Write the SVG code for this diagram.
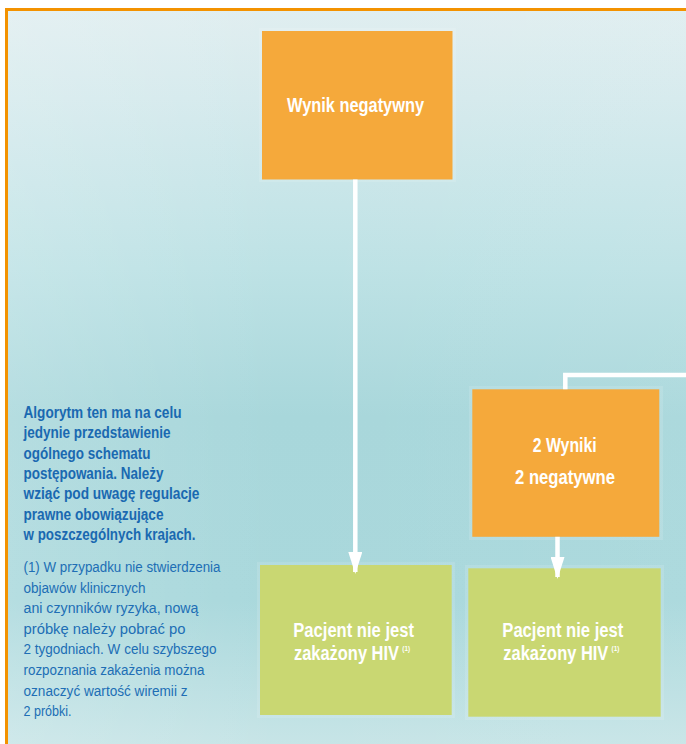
<svg xmlns="http://www.w3.org/2000/svg" width="686" height="744" viewBox="0 0 686 744">
  <defs>
    <linearGradient id="bg" x1="0" y1="0" x2="0" y2="1">
      <stop offset="0" stop-color="#e0eef0"/>
      <stop offset="0.12" stop-color="#d5eaed"/>
      <stop offset="0.35" stop-color="#bde2e5"/>
      <stop offset="0.55" stop-color="#a8d7db"/>
      <stop offset="0.8" stop-color="#a9d8dc"/>
      <stop offset="1" stop-color="#c8e5e7"/>
    </linearGradient>
    <linearGradient id="bgh" x1="0" y1="0" x2="1" y2="0">
      <stop offset="0" stop-color="#ffffff" stop-opacity="0.15"/>
      <stop offset="0.4" stop-color="#ffffff" stop-opacity="0"/>
      <stop offset="1" stop-color="#ffffff" stop-opacity="0.05"/>
    </linearGradient>
    <marker id="ah" viewBox="0 0 22 14" refX="20" refY="7" markerWidth="22" markerHeight="14" markerUnits="userSpaceOnUse" orient="auto">
      <path d="M0,0 L22,7 L0,14 Z" fill="#ffffff"/>
    </marker>
    <style>
      .orange { fill: #f5a93b; }
      .green { fill: #c9d772; }
      .halo { fill: #ffffff; fill-opacity: 0.12; }
      .lbl { font-family: "Liberation Sans Narrow", "Liberation Sans", Arial, sans-serif; font-weight: bold; fill: #ffffff; }
      .sup { font-size: 7.5px; }
      .note-b { font-family: "Liberation Sans Narrow", "Liberation Sans", Arial, sans-serif; font-weight: bold; fill: #1a69b1; font-size: 16px; }
      .note-r { font-family: "Liberation Sans Narrow", "Liberation Sans", Arial, sans-serif; fill: #206eb5; font-size: 14px; }
      .conn { stroke: #ffffff; stroke-width: 4.5; fill: none; }
    </style>
  </defs>

  <!-- background -->
  <rect x="0" y="0" width="686" height="744" fill="#ffffff"/>
  <rect x="6.5" y="9.5" width="690" height="740" fill="url(#bg)"/>
  <rect x="6.5" y="9.5" width="690" height="740" fill="url(#bgh)"/>
  <path d="M6.5,744 L6.5,9.5 L686,9.5" fill="none" stroke="#f39200" stroke-width="3"/>

  <!-- note texts -->
  <g id="note">
    <text class="note-b" x="23.5" y="418" textLength="158" lengthAdjust="spacingAndGlyphs">Algorytm ten ma na celu</text>
    <text class="note-b" x="23.5" y="438.3" textLength="147" lengthAdjust="spacingAndGlyphs">jedynie przedstawienie</text>
    <text class="note-b" x="23.5" y="458.6" textLength="127" lengthAdjust="spacingAndGlyphs">ogólnego schematu</text>
    <text class="note-b" x="23.5" y="479" textLength="140" lengthAdjust="spacingAndGlyphs">postępowania. Należy</text>
    <text class="note-b" x="23.5" y="499.3" textLength="176" lengthAdjust="spacingAndGlyphs">wziąć pod uwagę regulacje</text>
    <text class="note-b" x="23.5" y="519.6" textLength="140" lengthAdjust="spacingAndGlyphs">prawne obowiązujące</text>
    <text class="note-b" x="23.5" y="540" textLength="172" lengthAdjust="spacingAndGlyphs">w poszczególnych krajach.</text>
  </g>
  <g id="footnote">
    <text class="note-r" x="23.5" y="572" textLength="197" lengthAdjust="spacingAndGlyphs">(1) W przypadku nie stwierdzenia</text>
    <text class="note-r" x="23.5" y="592.6" textLength="122" lengthAdjust="spacingAndGlyphs">objawów klinicznych</text>
    <text class="note-r" x="23.5" y="613.2" textLength="175" lengthAdjust="spacingAndGlyphs">ani czynników ryzyka, nową</text>
    <text class="note-r" x="23.5" y="633.8" textLength="162" lengthAdjust="spacingAndGlyphs">próbkę należy pobrać po</text>
    <text class="note-r" x="23.5" y="654.4" textLength="193" lengthAdjust="spacingAndGlyphs">2 tygodniach. W celu szybszego</text>
    <text class="note-r" x="23.5" y="675" textLength="181" lengthAdjust="spacingAndGlyphs">rozpoznania zakażenia można</text>
    <text class="note-r" x="23.5" y="695.6" textLength="164" lengthAdjust="spacingAndGlyphs">oznaczyć wartość wiremii z</text>
    <text class="note-r" x="23.5" y="716.2" textLength="48" lengthAdjust="spacingAndGlyphs">2 próbki.</text>
  </g>

  <!-- nodes -->
  <g id="wynik-negatywny">
    <rect class="halo" x="259" y="28" width="197" height="154"/>
    <rect class="orange" x="262" y="31" width="190.5" height="148.5"/>
    <text class="lbl" x="287" y="112" font-size="20" textLength="137" lengthAdjust="spacingAndGlyphs">Wynik negatywny</text>
  </g>

  <g id="dwa-wyniki">
    <rect class="halo" x="469" y="386" width="194" height="154"/>
    <rect class="orange" x="472.3" y="389.3" width="187" height="147.5"/>
    <text class="lbl" x="532.7" y="451.7" font-size="20" textLength="64" lengthAdjust="spacingAndGlyphs">2 Wyniki</text>
    <text class="lbl" x="515" y="483.5" font-size="20" textLength="100" lengthAdjust="spacingAndGlyphs">2 negatywne</text>
  </g>

  <g id="pacjent-1">
    <rect class="halo" x="257" y="562" width="198" height="156"/>
    <rect class="green" x="260" y="565" width="191.7" height="150"/>
    <text class="lbl" x="293.3" y="637" font-size="19.5" textLength="120.7" lengthAdjust="spacingAndGlyphs">Pacjent nie jest</text>
    <text class="lbl" font-size="19.5" transform="translate(294,660) scale(0.843,1)">zakażony HIV<tspan class="sup" dx="4" dy="-9">(1)</tspan></text>
  </g>

  <g id="pacjent-2">
    <rect class="halo" x="465" y="565" width="199" height="155"/>
    <rect class="green" x="468.3" y="568.3" width="192.4" height="148.4"/>
    <text class="lbl" x="502.3" y="637" font-size="19.5" textLength="121" lengthAdjust="spacingAndGlyphs">Pacjent nie jest</text>
    <text class="lbl" font-size="19.5" transform="translate(503.3,660) scale(0.843,1)">zakażony HIV<tspan class="sup" dx="4" dy="-9">(1)</tspan></text>
  </g>

  <!-- connectors -->
  <g id="connectors">
    <path class="conn" d="M355.3,179.5 L355.3,572" marker-end="url(#ah)"/>
    <path class="conn" d="M557.5,536.8 L557.5,577" marker-end="url(#ah)"/>
    <path class="conn" d="M565.3,389.3 L565.3,375 L686,375"/>
  </g>
</svg>
